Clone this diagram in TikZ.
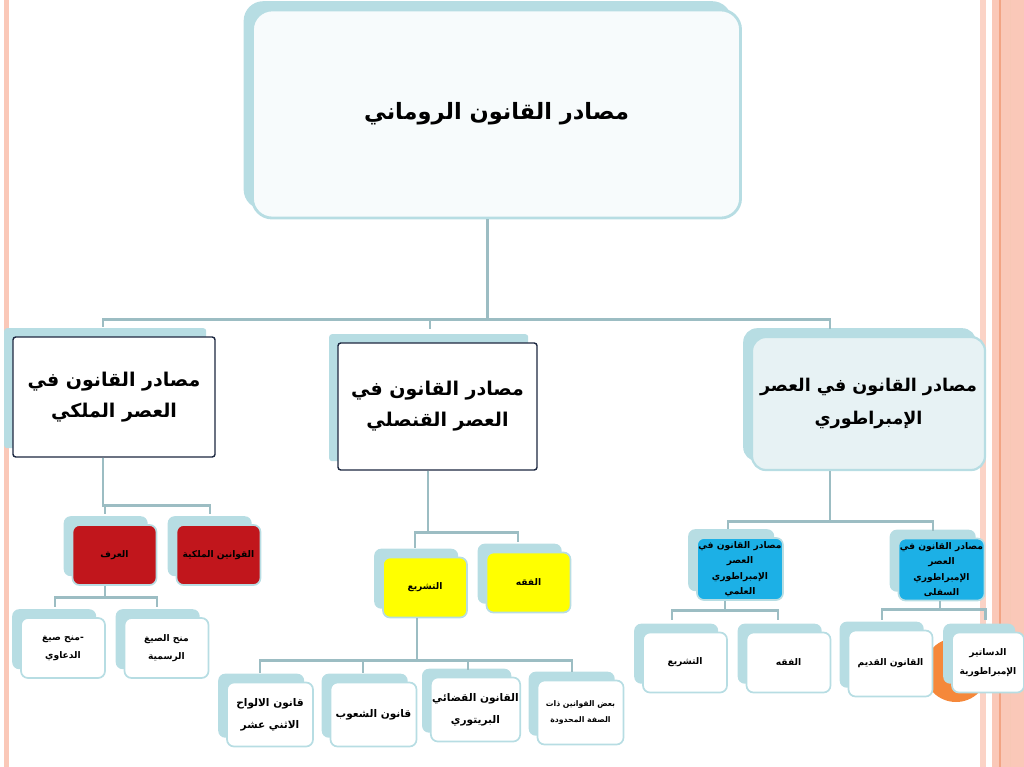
\documentclass[tikz,border=0pt]{standalone}
\usepackage{fontspec}
\newfontfamily\arabicfont[Script=Arabic]{DejaVu Sans}
\TeXXeTstate=1
\usetikzlibrary{calc,shadows}
\newcommand{\artxt}[1]{\beginR #1\endR}
\definecolor{shadowblue}{HTML}{B7DDE3}
\definecolor{linkgrey}{HTML}{9CBDC3}
\definecolor{navyline}{HTML}{1C2740}
\definecolor{rootfill}{HTML}{F7FBFC}
\definecolor{imperialfill}{HTML}{E7F2F4}
\definecolor{lawred}{HTML}{C1161C}
\definecolor{lawyellow}{HTML}{FFFF00}
\definecolor{lawblue}{HTML}{1CB0E6}
\definecolor{salmon}{HTML}{FAC8B8}
\definecolor{salmondark}{HTML}{F2A484}
\definecolor{dotorange}{HTML}{F5883A}

\begin{document}
\begin{tikzpicture}[x=0.025cm, y=-0.025cm,
  card/.style={draw=shadowblue, line width=1.2pt, fill=white, rounded corners=5pt, align=center, inner sep=1pt,
    copy shadow={shadow xshift=-2.2mm, shadow yshift=2.2mm, fill=shadowblue, draw=none}},
  rootbox/.style={card, fill=rootfill, line width=2pt, rounded corners=14pt, minimum width=12.2cm, minimum height=5.2cm,
    font=\arabicfont\bfseries\fontsize{16}{22}\selectfont},
  era/.style={card, draw=navyline, line width=1pt, rounded corners=2pt, font=\arabicfont\bfseries\fontsize{13.5}{22}\selectfont},
  empera/.style={card, fill=imperialfill, line width=1.6pt, rounded corners=10pt, font=\arabicfont\bfseries\fontsize{12.5}{24}\selectfont},
  smallbox/.style={card, minimum width=2.1cm, minimum height=1.5cm, font=\arabicfont\bfseries\fontsize{6.5}{12.5}\selectfont},
  redbox/.style={smallbox, fill=lawred},
  yellowbox/.style={smallbox, fill=lawyellow},
  bluebox/.style={smallbox, fill=lawblue, minimum width=2.15cm, minimum height=1.55cm, font=\arabicfont\bfseries\fontsize{6.5}{11}\selectfont},
  leafbox/.style={smallbox, minimum width=2.15cm, minimum height=1.6cm, font=\arabicfont\bfseries\fontsize{7.5}{15.5}\selectfont},
  link/.style={draw=linkgrey, line width=2pt}
]
\useasboundingbox (0,0) rectangle (1024,767);

% slide trim
\fill[salmon] (4,0) rectangle (9,767);
\fill[salmon!80] (980,0) rectangle (986,767);
\fill[salmon] (992,0) rectangle (1024,767);
\draw[salmondark, line width=1pt] (1000,0) -- (1000,767);
\draw[salmondark!60, line width=0.6pt] (1010,0) -- (1010,767);
\fill[dotorange] (956,670) circle (32);

% levels 1 and 2
\node[rootbox] (root) at (496.5,114) {\artxt{مصادر القانون الروماني}};
\node[era, minimum width=5.05cm, minimum height=3cm] (kingly) at (114,397)
  {\artxt{مصادر القانون في}\\\artxt{العصر الملكي}};
\node[era, minimum width=4.975cm, minimum height=3.175cm] (consular) at (437.5,406.5)
  {\artxt{مصادر القانون في}\\\artxt{العصر القنصلي}};
\node[empera, minimum width=5.825cm, minimum height=3.325cm] (imperial) at (868.5,403.5)
  {\artxt{مصادر القانون في العصر}\\\artxt{الإمبراطوري}};

% kingly era
\node[redbox] (custom) at (114.5,555) {\artxt{العرف}};
\node[redbox] (royallaws) at (218.5,555) {\artxt{القوانين الملكية}};
\node[smallbox] (actions) at (63,648) {\artxt{-منح صيغ}\\\artxt{الدعاوي}};
\node[smallbox] (formulas) at (166.5,648) {\artxt{منح الصيغ}\\\artxt{الرسمية}};

% consular era
\node[yellowbox] (legis) at (425,587.5) {\artxt{التشريع}};
\node[yellowbox] (doctrine) at (528.5,582.5) {\artxt{الفقه}};
\node[leafbox] (tables) at (270,714.5) {\artxt{قانون الالواح}\\\artxt{الاثني عشر}};
\node[leafbox] (peoples) at (373.5,714.5) {\artxt{قانون الشعوب}};
\node[leafbox] (praetor) at (475.5,709.5) {\artxt{القانون القضائي}\\\artxt{البريتوري}};
\node[leafbox, font=\arabicfont\bfseries\fontsize{5.5}{11}\selectfont] (limited) at (580.5,712.5)
  {\artxt{بعض القوانين ذات}\\\artxt{الصفة المحدودة}};

% imperial era
\node[bluebox] (upperemp) at (740,569)
  {\artxt{مصادر القانون في}\\\artxt{العصر}\\\artxt{الإمبراطوري}\\\artxt{العلمي}};
\node[bluebox] (loweremp) at (941.5,569.5)
  {\artxt{مصادر القانون في}\\\artxt{العصر}\\\artxt{الإمبراطوري}\\\artxt{السفلى}};
\node[smallbox] (legis2) at (685,662.5) {\artxt{التشريع}};
\node[smallbox] (doctrine2) at (788.5,662.5) {\artxt{الفقه}};
\node[smallbox, minimum height=1.65cm] (oldlaw) at (890.5,663.5) {\artxt{القانون القديم}};
\node[smallbox, minimum width=1.8cm, font=\arabicfont\bfseries\fontsize{6.5}{14}\selectfont] (constitutions) at (988,662.5)
  {\artxt{الدساتير}\\\artxt{الإمبراطورية}};

% connectors
\draw[link] ($(root.south)+(-9,0)$) -- ++(0,100) -| ($(kingly.north)+(-11,-9)$);
\draw[link] ($(root.south)+(-9,0)$) -- ++(0,100) -| ($(consular.north)+(-7.5,-13)$);
\draw[link] ($(root.south)+(-9,0)$) -- ++(0,100) -| ($(imperial.north)+(-38.5,-7)$);

\draw[link] ($(kingly.south)+(-11,0)$) -- ++(0,48) -| ($(custom.north)+(-9.5,-10)$);
\draw[link] ($(kingly.south)+(-11,0)$) -- ++(0,48) -| ($(royallaws.north)+(-8.5,-10)$);
\draw[link] ($(custom.south)+(-9.5,0)$) -- ++(0,12) -| ($(actions.north)+(-8,-10)$);
\draw[link] ($(custom.south)+(-9.5,0)$) -- ++(0,12) -| ($(formulas.north)+(-9.5,-10)$);

\draw[link] ($(consular.south)+(-9.5,0)$) -- ++(0,62) -| ($(legis.north)+(-10,-9)$);
\draw[link] ($(consular.south)+(-9.5,0)$) -- ++(0,62) -| ($(doctrine.north)+(-10.5,-10)$);
\draw[link] ($(legis.south)+(-8,0)$) -- ++(0,42) -| ($(tables.north)+(-10,-9)$);
\draw[link] ($(legis.south)+(-8,0)$) -- ++(0,42) -| ($(peoples.north)+(-10.5,-9)$);
\draw[link] ($(legis.south)+(-8,0)$) -- ++(0,42) -| ($(praetor.north)+(-7.5,-7)$);
\draw[link] ($(legis.south)+(-8,0)$) -- ++(0,42) -| ($(limited.north)+(-8.5,-8)$);

\draw[link] ($(imperial.south)+(-38.5,0)$) -- ++(0,50) -| ($(upperemp.north)+(-12,-8)$);
\draw[link] ($(imperial.south)+(-38.5,0)$) -- ++(0,50) -| ($(loweremp.north)+(-8.5,-7)$);
\draw[link] ($(upperemp.south)+(-15,0)$) -- ++(0,10) -| ($(legis2.north)+(-13,-12)$);
\draw[link] ($(upperemp.south)+(-15,0)$) -- ++(0,10) -| ($(doctrine2.north)+(-10.5,-12)$);
\draw[link] ($(loweremp.south)+(-1.5,0)$) -- ++(0,8) -| ($(oldlaw.north)+(-8.5,-10)$);
\draw[link] ($(loweremp.south)+(-1.5,0)$) -- ++(0,8) -| ($(constitutions.north)+(-2.5,-12)$);
\end{tikzpicture}
\end{document}
